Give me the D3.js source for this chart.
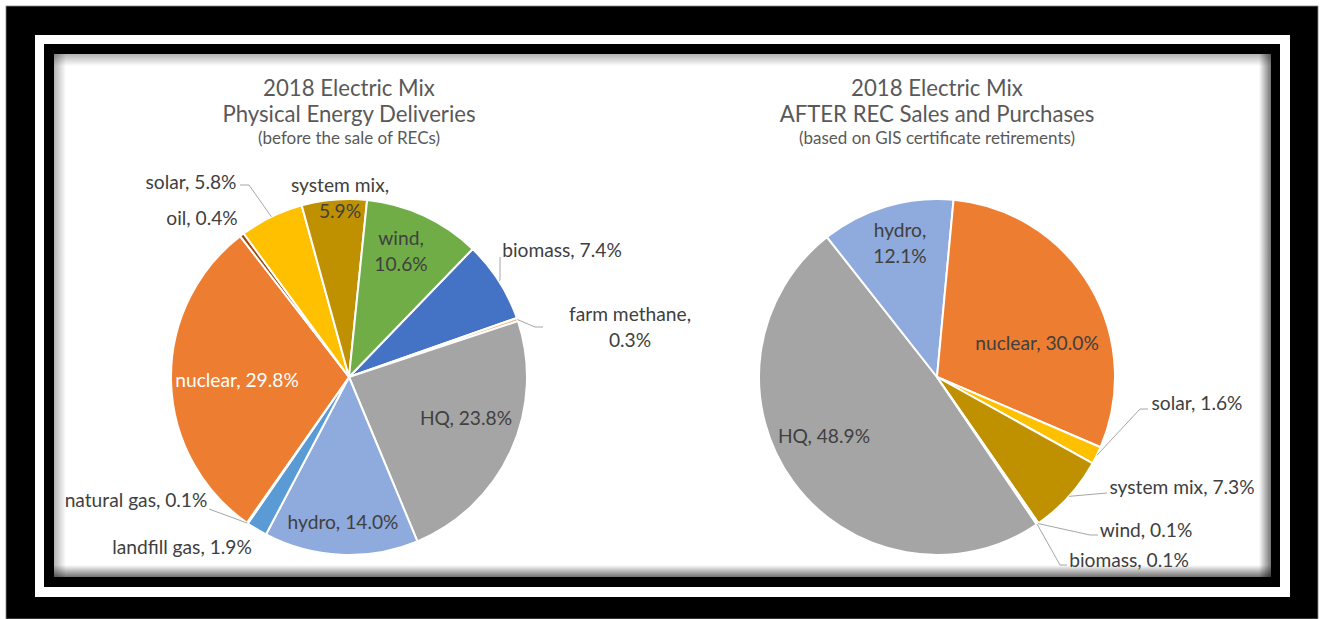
<!DOCTYPE html>
<html><head><meta charset="utf-8">
<script src="https://cdn.jsdelivr.net/npm/d3@7"></script>
<style>
html,body{margin:0;padding:0;background:#fff;}
svg{display:block;}
text{font-family:Lato,"Open Sans",sans-serif;}
</style></head>
<body><svg id="chart" width="1324" height="619"></svg>
<script>
// ---------- data ----------
const pie1Title = ["2018 Electric Mix", "Physical Energy Deliveries"];
const pie1Subtitle = "(before the sale of RECs)";
const pie1Categories = ["biomass","farm methane","HQ","hydro","landfill gas","natural gas","nuclear","oil","solar","system mix","wind"];
const pie1Values = [7.4, 0.3, 23.8, 14.0, 1.9, 0.1, 29.8, 0.4, 5.8, 5.9, 10.6];

const pie2Title = ["2018 Electric Mix", "AFTER REC Sales and Purchases"];
const pie2Subtitle = "(based on GIS certificate retirements)";
const pie2Categories = ["biomass","HQ","hydro","nuclear","solar","system mix","wind"];
const pie2Values = [0.1, 48.9, 12.1, 30.0, 1.6, 7.3, 0.1];

// ---------- style ----------
const colors = {
  "biomass":"#4472C4","farm methane":"#F4B183","HQ":"#A5A5A5","hydro":"#8FAADC",
  "landfill gas":"#5B9BD5","natural gas":"#70AD47","nuclear":"#ED7D31","oil":"#9E480E",
  "solar":"#FFC000","system mix":"#BF9000","wind":"#70AD47"
};
const labelColor = "#404040", titleColor = "#595959";
const R = 178;
const labelSize = 19.2, titleSize = 22.2, subSize = 17;

// label layout, relative to pie centre (dx, dy of label centre; lines split; leader elbow)
const layout1 = {
  "biomass":{dx:213,dy:-127,lines:1,leader:[[151,-120],[151,-97]]},
  "farm methane":{dx:281,dy:-50,lines:2,leader:[[194,-50],[186,-50]]},
  "HQ":{dx:117,dy:41,lines:1},
  "hydro":{dx:-6,dy:145,lines:1},
  "landfill gas":{dx:-167,dy:170,lines:1},
  "natural gas":{dx:-213,dy:123,lines:1,leader:[[-140,132]]},
  "nuclear":{dx:-112,dy:3,lines:1,fill:"#ffffff"},
  "oil":{dx:-147,dy:-159,lines:1},
  "solar":{dx:-158,dy:-195,lines:1,leader:[[-109,-192],[-100,-192]]},
  "system mix":{dx:-9,dy:-179,lines:2},
  "wind":{dx:52,dy:-126,lines:2}
};
const layout2 = {
  "biomass":{dx:192,dy:183,lines:1,leader:[[130,188],[123,188]]},
  "HQ":{dx:-113,dy:59,lines:1},
  "hydro":{dx:-37,dy:-134,lines:2},
  "nuclear":{dx:100,dy:-34,lines:1},
  "solar":{dx:260,dy:26,lines:1,leader:[[211,32],[203,32]]},
  "system mix":{dx:245,dy:110,lines:1,leader:[[170,116]]},
  "wind":{dx:209,dy:153,lines:1,leader:[[161,158],[153,158]]}
};

const svg = d3.select("#chart");

// ---------- frame ----------
svg.append("rect").attr("x",0).attr("y",0).attr("width",1324).attr("height",619).attr("fill","#ffffff");
svg.append("rect").attr("x",6).attr("y",6).attr("width",1312).attr("height",613).attr("fill","#000").attr("stroke","#888").attr("stroke-width",0.8);
svg.append("rect").attr("x",35).attr("y",35).attr("width",1255).attr("height",562).attr("fill","#fff");
svg.append("rect").attr("x",44).attr("y",44).attr("width",1236).attr("height",543).attr("fill","#000");
const ax=54, ay=54, aw=1217, ah=523;
svg.append("rect").attr("x",ax).attr("y",ay).attr("width",aw).attr("height",ah).attr("fill","#ffffff");

const defs = svg.append("defs");
function grad(id,x1,y1,x2,y2,op){
  const g = defs.append("linearGradient").attr("id",id).attr("x1",x1).attr("y1",y1).attr("x2",x2).attr("y2",y2);
  g.append("stop").attr("offset","0%").attr("stop-color","#000").attr("stop-opacity",op);
  g.append("stop").attr("offset","100%").attr("stop-color","#000").attr("stop-opacity",0);
}
grad("gT","0","0","0","1",0.30);
grad("gL","0","0","1","0",0.30);
grad("gR","1","0","0","0",0.55);
grad("gB","0","1","0","0",0.55);
const sw = 12;
svg.append("rect").attr("x",ax).attr("y",ay).attr("width",aw).attr("height",sw).attr("fill","url(#gT)");
svg.append("rect").attr("x",ax).attr("y",ay).attr("width",sw).attr("height",ah).attr("fill","url(#gL)");
svg.append("rect").attr("x",ax+aw-sw).attr("y",ay).attr("width",sw).attr("height",ah).attr("fill","url(#gR)");
svg.append("rect").attr("x",ax).attr("y",ay+ah-sw).attr("width",aw).attr("height",sw).attr("fill","url(#gB)");

// ---------- pies ----------
function drawPie(cx, cy, cats, vals, startDeg, layout, title, subtitle){
  const g = svg.append("g").attr("transform",`translate(${cx},${cy})`);
  const data = cats.map((c,i)=>({cat:c, value:vals[i]}));
  const a0 = startDeg*Math.PI/180;
  const pie = d3.pie().sort(null).value(d=>d.value).startAngle(a0).endAngle(a0+2*Math.PI);
  const arc = d3.arc().innerRadius(0).outerRadius(R);
  const arcs = pie(data);
  g.selectAll("path.slice").data(arcs).join("path").attr("class","slice")
    .attr("d",arc).attr("fill",d=>colors[d.data.cat])
    .attr("stroke","#fff").attr("stroke-width",2).attr("stroke-linejoin","round");

  // leaders
  arcs.forEach(d=>{
    const L = layout[d.data.cat];
    if(!L || !L.leader) return;
    const mid = (d.startAngle+d.endAngle)/2;
    const px = R*Math.sin(mid), py = -R*Math.cos(mid);
    const pts = L.leader.concat([[px,py]]);
    g.append("path").attr("d",d3.line()(pts)).attr("fill","none").attr("stroke","#a6a6a6").attr("stroke-width",1);
  });

  // labels
  arcs.forEach(d=>{
    const L = layout[d.data.cat];
    if(!L) return;
    const txt = `${d.data.cat}, ${d.data.value.toFixed(1)}%`;
    const lines = L.lines===2 ? [d.data.cat+",", d.data.value.toFixed(1)+"%"] : [txt];
    const t = g.append("text").attr("text-anchor","middle").attr("fill",L.fill||labelColor)
      .attr("font-size",labelSize);
    lines.forEach((s,i)=>{
      t.append("tspan").attr("x",L.dx).attr("y",L.dy + (i-(lines.length-1)/2)*26).attr("dy","0.35em").text(s);
    });
  });

  // title
  const tt = svg.append("text").attr("text-anchor","middle").attr("fill",titleColor).attr("font-size",titleSize);
  title.forEach((s,i)=> tt.append("tspan").attr("x",cx).attr("y",88+i*26).attr("dy","0.35em").text(s));
  svg.append("text").attr("text-anchor","middle").attr("fill",titleColor).attr("font-size",subSize)
    .attr("x",cx).attr("y",138).attr("dy","0.35em").text(subtitle);
}

drawPie(349, 377, pie1Categories, pie1Values, 44, layout1, pie1Title, pie1Subtitle);
drawPie(937, 377, pie2Categories, pie2Values, 145.6, layout2, pie2Title, pie2Subtitle);
</script></body></html>
